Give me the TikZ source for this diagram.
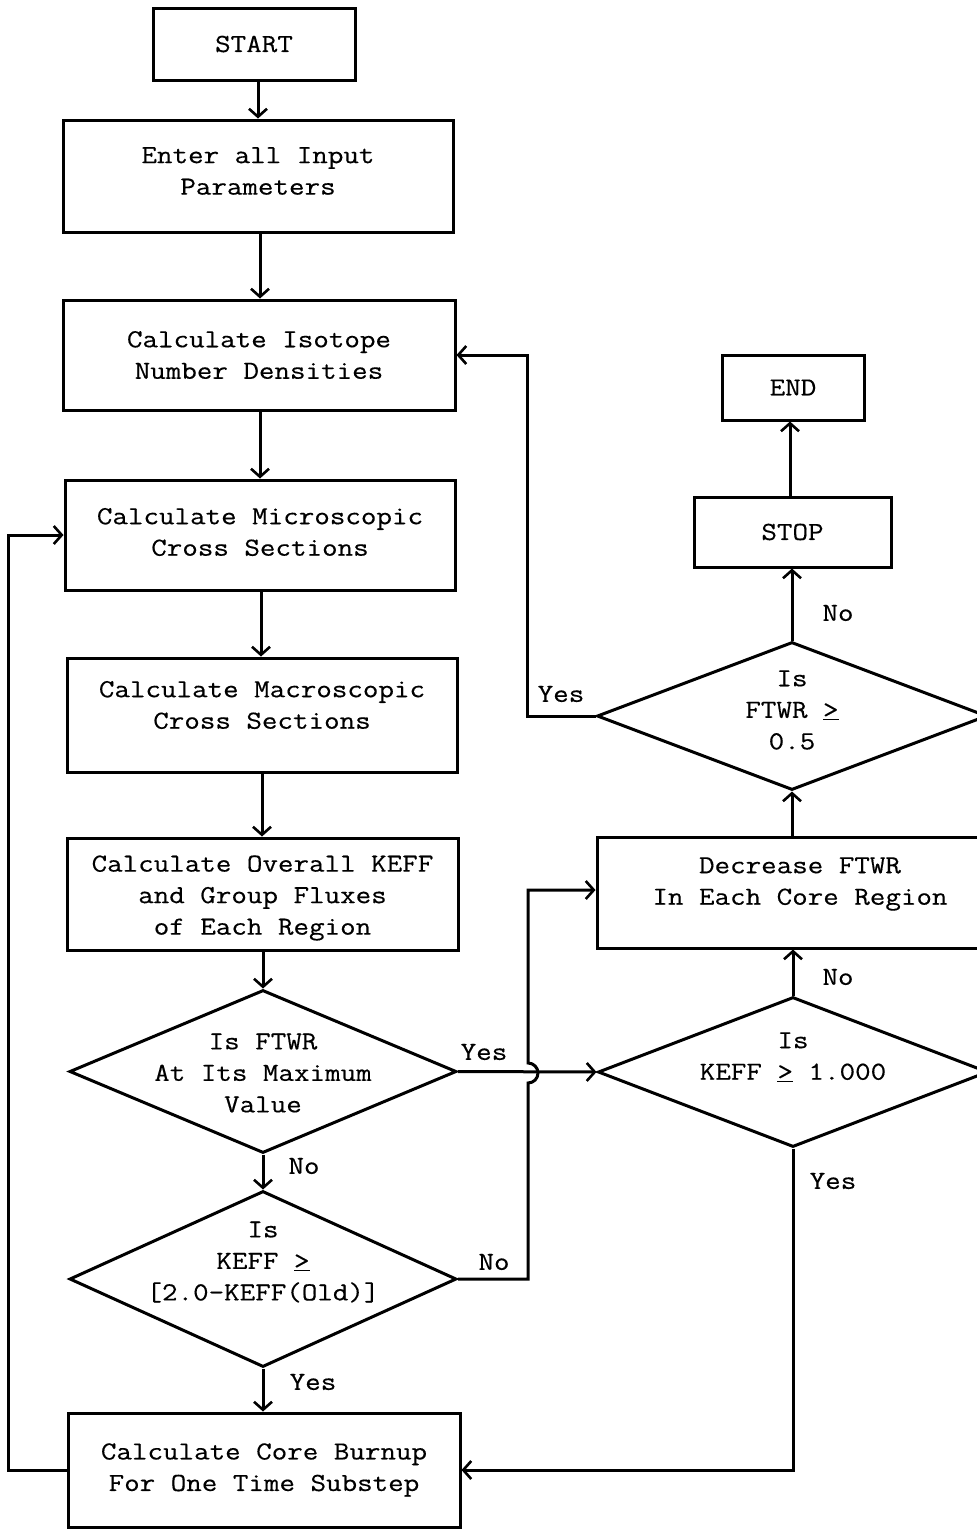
\documentclass[tikz,border=0pt]{standalone}
\usepackage{fontspec}
\newfontfamily\tw{Latin Modern Mono}[FakeStretch=1.16,FakeBold=0.4]
\usetikzlibrary{shapes.geometric,arrows.meta}
\newcommand{\myge}{\underline{>}}
\begin{document}
\begin{tikzpicture}[x=1pt,y=-1pt,
  every node/.style={font=\tw\fontsize{26}{31.5}\selectfont},
  box/.style={draw,line width=3pt,rectangle,inner sep=0pt,align=center},
  dia/.style={draw,line width=3pt,diamond,inner sep=0pt},
  txt/.style={align=center,inner sep=0pt},
  lbl/.style={inner sep=0pt},
  arr/.style={line width=3pt,-{Straight Barb[length=8pt,width=18pt,line width=2.6pt]}}]
\useasboundingbox (0,0) rectangle (977,1529);
\fill[white] (0,0) rectangle (977,1529);
% left column boxes
\node[box,minimum width=202pt,minimum height=72pt] (start) at (254,44) {START};
\node[box,minimum width=390pt,minimum height=112pt] (enter) at (258,176) {};
\node[txt] (entert) at (258,171) {Enter all Input\\Parameters};
\node[box,minimum width=392pt,minimum height=110pt] (iso) at (259,355) {Calculate Isotope\\Number Densities};
\node[box,minimum width=390pt,minimum height=110pt] (micro) at (260,535) {};
\node[txt] (microt) at (260,532) {Calculate Microscopic\\Cross Sections};
\node[box,minimum width=390pt,minimum height=114pt] (macro) at (262,715) {};
\node[txt] (macrot) at (262,705) {Calculate Macroscopic\\Cross Sections};
\node[box,minimum width=391pt,minimum height=112pt] (overall) at (262.5,894) {};
\node[txt] (overallt) at (262.5,898) {Calculate Overall KEFF\\and Group Fluxes\\of Each Region};
\node[dia,minimum width=387pt,minimum height=163pt] (d1) at (263,1071.5) {};
\node[txt] (d1t) at (263,1073) {Is FTWR\\At Its Maximum\\Value};
\node[dia,minimum width=387pt,minimum height=176pt] (d2) at (263,1279) {};
\node[txt] (d2t) at (263,1262) {Is\\KEFF \myge\\{[2.0-KEFF(Old)]}};
\node[box,minimum width=392pt,minimum height=114pt] (burn) at (264,1470) {Calculate Core Burnup\\For One Time Substep};
% right column
\node[box,minimum width=142pt,minimum height=65pt] (end) at (793,387.5) {END};
\node[box,minimum width=197pt,minimum height=70pt] (stop) at (792.5,532) {STOP};
\node[dia,minimum width=390pt,minimum height=148pt] (d3) at (792,716) {};
\node[txt] (d3t) at (792,710) {Is\\FTWR \myge\\0.5};
\node[box,minimum width=406pt,minimum height=111pt] (dec) at (800,892.5) {};
\node[txt] (dect) at (800,884) {Decrease FTWR\\In Each Core Region};
\node[dia,minimum width=390pt,minimum height=150pt] (d4) at (793,1072) {};
\node[txt] (d4t) at (793,1057) {Is\\KEFF \myge\ 1.000};
% main chain
\draw[arr] (start.south -| 258,0) -- (enter.north -| 258,0);
\draw[arr] (enter.south -| 260,0) -- (iso.north -| 260,0);
\draw[arr] (iso.south -| 260,0) -- (micro.north -| 260,0);
\draw[arr] (micro.south -| 261,0) -- (macro.north -| 261,0);
\draw[arr] (macro.south -| 262,0) -- (overall.north -| 262,0);
\draw[arr] (overall.south -| d1.north) -- (d1.north);
\draw[arr] (d1.south) -- (d2.north);
\draw[arr] (d2.south) -- (burn.north -| d2.south);
% right chain
\draw[arr] (d4.north) -- (dec.south -| d4.north);
\draw[arr] (dec.north -| d3.south) -- (d3.south);
\draw[arr] (d3.north) -- (stop.south -| d3.north);
\draw[arr] (stop.north -| 790,0) -- (end.south -| 790,0);
% cross links
\draw[arr] (d1.east) -- (d4.west);
\draw[arr] (d2.east) -- (528,1279) -- (528,1083) arc[start angle=90,end angle=-90,radius=10] -- (528,890) -- (dec.west |- 0,890);
\draw[arr] (d3.west) -- (527,716) |- (iso.east);
\draw[arr] (d4.south) |- (burn.east);
\draw[arr] (burn.west) -- (8,1470) |- (micro.west);
% labels
\node[lbl] (l1) at (304,1166) {No};
\node[lbl] (l2) at (313,1382) {Yes};
\node[lbl] (l3) at (484,1052) {Yes};
\node[lbl] (l4) at (494,1262) {No};
\node[lbl] (l5) at (561,694) {Yes};
\node[lbl] (l6) at (838,613) {No};
\node[lbl] (l7) at (838,977) {No};
\node[lbl] (l8) at (833,1181) {Yes};
\end{tikzpicture}
\end{document}
